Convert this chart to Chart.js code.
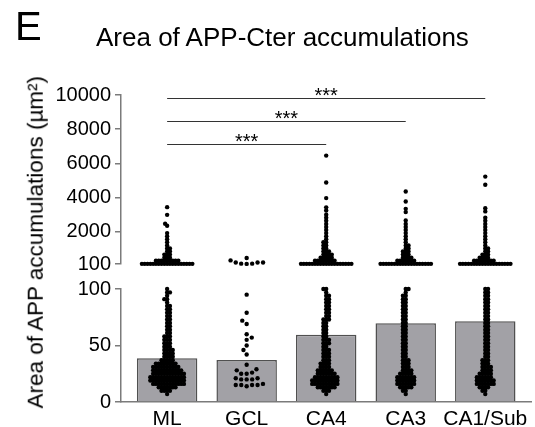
<!DOCTYPE html>
<html>
<head>
<meta charset="utf-8">
<title>Area of APP-Cter accumulations</title>
<script src="https://cdn.jsdelivr.net/npm/chart.js@4.4.1/dist/chart.umd.min.js"></script>
<style>
  body { margin: 0; background: #fff; }
  #figure { position: relative; width: 535px; height: 427px; font-family: "Liberation Sans", Arial, sans-serif; color: #000; }
  #figure canvas { position: absolute; left: 0; top: 0; }
  .panelLetter { position: absolute; left: 15px; top: 6px; font-size: 40px; line-height: 1; }
  .mainTitle { position: absolute; left: 96px; top: 24px; font-size: 26px; line-height: 1; white-space: nowrap; }
  .yTitle { position: absolute; left: -144px; top: 231px; width: 360px; text-align: center; font-size: 22.5px; line-height: 1; transform: rotate(-90deg); white-space: nowrap; }
</style>
</head>
<body>
<div id="figure">
  <canvas id="swarmChart" width="535" height="427"></canvas>
  <div class="panelLetter">E</div>
  <div class="mainTitle">Area of APP-Cter accumulations</div>
  <div class="yTitle">Area of APP accumulations (µm²)</div>
</div>
<script>
// categories and bar heights (µm²)
const categories = ["ML", "GCL", "CA4", "CA3", "CA1/Sub"];
const barMeans = [38.7, 37.2, 59.5, 69.6, 71.4];

// tick labels of the two halves of the broken y axis
const upperTicks = [100, 2000, 4000, 6000, 8000, 10000];
const lowerTicks = [0, 50, 100];

// lower half (0-100 µm²): dot levels and how many dots sit on each level
const lowLevels = [7, 10, 13, 16, 19, 22, 25, 28, 31, 34, 37, 40, 43, 46, 49, 52,
                   55, 58, 61, 64, 67, 70, 73, 76, 79, 82, 85, 88, 91, 94, 97, 100];
const mlLowCounts  = [1, 4, 7, 12, 13, 13, 12, 11, 10, 8, 5, 4, 4, 4, 3, 3, 3, 3, 2, 2, 2, 2, 2, 2, 2, 2, 2, 1, 2, 1, 2, 1];
const ca4LowCounts = [1, 3, 7, 10, 10, 9, 7, 6, 4, 4, 3, 3, 3, 3, 2, 3, 3, 2, 2, 2, 2, 2, 3, 2, 2, 2, 2, 2, 2, 2, 1, 2];
const ca3LowCounts = [1, 2, 5, 7, 7, 7, 5, 4, 3, 3, 3, 2, 2, 2, 2, 2, 2, 2, 2, 2, 2, 2, 2, 2, 2, 2, 2, 2, 2, 2, 1, 2];
const ca1LowCounts = [1, 2, 4, 7, 7, 6, 5, 4, 4, 3, 3, 2, 2, 2, 2, 2, 2, 2, 2, 2, 2, 2, 2, 2, 2, 2, 2, 2, 2, 2, 2, 2];
// GCL has only a few dots, listed one by one
const gclLow = [95, 79, 72, 69, 60, 57, 55, 50, 46, 42, 33, 29, 28, 26, 25, 25,
                21, 21, 20, 20, 20, 16, 15, 15, 15, 15, 14];

// upper half (>100 µm²): [value, number of dots]
const mlHigh = [[110, 19], [290, 9], [470, 3], [650, 3], [830, 2], [1010, 2], [1190, 1], [1370, 1],
                [1550, 1], [1730, 1], [1910, 1], [2340, 1], [2460, 1], [2980, 1], [3430, 1]];
const gclHigh = [[105, 1], [120, 2], [190, 3], [310, 1], [450, 1]];
const ca4High = [[110, 19], [290, 8], [470, 5], [650, 4], [830, 3], [1010, 2], [1190, 2], [1370, 2],
                 [1550, 1], [1730, 1], [1910, 1], [2090, 1], [2270, 1], [2450, 1], [2630, 1], [2810, 1],
                 [2990, 1], [3230, 1], [3420, 1], [3960, 1], [4870, 1], [6450, 1]];
const ca3High = [[110, 19], [290, 7], [470, 4], [650, 3], [830, 3], [1010, 2], [1190, 2], [1370, 1],
                 [1550, 1], [1730, 1], [1910, 1], [2090, 1], [2270, 1], [2450, 1], [2650, 1],
                 [3140, 1], [3330, 1], [3760, 1], [4350, 1]];
const ca1High = [[110, 19], [290, 8], [470, 4], [650, 3], [830, 2], [1010, 2], [1190, 1], [1370, 1],
                 [1550, 1], [1730, 1], [1910, 1], [2090, 1], [2270, 1], [2450, 1], [2630, 1], [2810, 1],
                 [3180, 1], [3370, 1], [4740, 1], [5220, 1]];

// significance brackets: [from category, to category, height in µm²]
const brackets = [[0, 4, 9800], [0, 3, 8450], [0, 2, 7150]];
const starText = "***";

/*********************************************/
/*                helpers                    */
/*********************************************/

function fromLevels(levels, counts) {
  const out = [];
  levels.forEach((v, i) => { for (let k = 0; k < counts[i]; k++) out.push(v); });
  return out;
}

function fromPairs(pairs) {
  const out = [];
  pairs.forEach(([v, n]) => { for (let k = 0; k < n; k++) out.push(v); });
  return out;
}

const lowGroups = [fromLevels(lowLevels, mlLowCounts), gclLow, fromLevels(lowLevels, ca4LowCounts),
                   fromLevels(lowLevels, ca3LowCounts), fromLevels(lowLevels, ca1LowCounts)];
const highGroups = [mlHigh, gclHigh, ca4High, ca3High, ca1High].map(fromPairs);
const dotGap = [2.8, 5.5, 2.8, 2.8, 2.8]; // min distance between dot centres, px

// beeswarm: push each dot sideways until it clears the ones already placed
function swarm(values, yScale, unitPx, gap, cat) {
  const placed = [];
  return values.slice().sort((a, b) => a - b).map((v, n) => {
    const py = yScale.getPixelForValue(v);
    const near = placed.filter(p => Math.abs(p.y - py) < gap);
    let dx = 0;
    for (let k = 0; k < 400; k++) {
      const step = 0.1 * k;
      const tries = k === 0 ? [0] : (n % 2 ? [step, -step] : [-step, step]);
      const ok = tries.find(t => near.every(p => Math.hypot(p.x - t, p.y - py) >= gap - 1e-6));
      if (ok !== undefined) { dx = ok; break; }
    }
    placed.push({ x: dx, y: py });
    return { x: cat + dx / unitPx, y: v };
  });
}

/*********************************************/
/*                 chart                     */
/*********************************************/

const axisGrey = "#7b7b7b";
const fontFamily = "'Liberation Sans', Arial, sans-serif";
Chart.defaults.font.family = fontFamily;
Chart.defaults.color = "#000";

// draws the *** comparison lines on the upper half
const sigBrackets = {
  id: "sigBrackets",
  afterDatasetsDraw(chart) {
    const { ctx } = chart;
    const x = chart.scales.x, yTop = chart.scales.yTop;
    ctx.save();
    ctx.strokeStyle = "#333";
    ctx.lineWidth = 1.2;
    ctx.fillStyle = "#000";
    ctx.font = "20px " + fontFamily;
    ctx.textAlign = "center";
    ctx.textBaseline = "alphabetic";
    brackets.forEach(([a, b, v]) => {
      const y = Math.round(yTop.getPixelForValue(v)) + 0.5;
      const x1 = x.getPixelForValue(a), x2 = x.getPixelForValue(b);
      ctx.beginPath();
      ctx.moveTo(x1, y);
      ctx.lineTo(x2, y);
      ctx.stroke();
      ctx.fillText(starText, (x1 + x2) / 2, y + 3);
    });
    ctx.restore();
  }
};

const yAxisBase = {
  type: "linear",
  position: "left",
  stack: "broken",
  grid: { drawOnChartArea: false, tickLength: 6, color: axisGrey, lineWidth: 1.5 },
  border: { color: axisGrey, width: 1.5 },
  ticks: { font: { size: 20 }, padding: 4, autoSkip: false, callback: v => String(v) },
  afterFit: s => { s.width = 121; }
};

const config = {
  type: "bar",
  data: {
    datasets: [
      {
        type: "bar",
        data: barMeans.map((v, i) => ({ x: i, y: v })),
        yAxisID: "yBot",
        backgroundColor: "#a2a1a6",
        borderColor: "#505050",
        borderWidth: 1.5,
        barPercentage: 0.76,
        categoryPercentage: 1,
        order: 3
      },
      {
        type: "scatter",
        data: lowGroups.flatMap((vals, i) => vals.map(v => ({ x: i, y: v }))),
        yAxisID: "yBot",
        pointRadius: 2.2,
        pointBackgroundColor: "#000",
        pointBorderWidth: 0,
        clip: false,
        order: 1
      },
      {
        type: "scatter",
        data: highGroups.flatMap((vals, i) => vals.map(v => ({ x: i, y: v }))),
        yAxisID: "yTop",
        pointRadius: 2.2,
        pointBackgroundColor: "#000",
        pointBorderWidth: 0,
        clip: false,
        order: 2
      }
    ]
  },
  options: {
    responsive: false,
    animation: false,
    devicePixelRatio: 1,
    layout: { padding: { top: 95, right: 2, left: 0, bottom: 0 } },
    plugins: { legend: { display: false }, tooltip: { enabled: false } },
    scales: {
      x: {
        type: "linear",
        offset: false,
        min: -0.58,
        max: 4.575,
        grid: { display: false, drawTicks: false },
        border: { color: axisGrey, width: 1.5 },
        afterBuildTicks: s => { s.ticks = categories.map((c, i) => ({ value: i })); },
        ticks: { font: { size: 21 }, padding: 5, maxRotation: 0, autoSkip: false, callback: v => categories[v] },
        afterFit: s => { s.height = 25; }
      },
      yTop: Object.assign({}, yAxisBase, {
        weight: 3, stackWeight: 169, min: 100, max: 10000,
        afterBuildTicks: s => { s.ticks = upperTicks.map(v => ({ value: v })); }
      }),
      yGap: {
        type: "linear", position: "left", stack: "broken", weight: 2, stackWeight: 25,
        min: 0, max: 1,
        grid: { display: false }, border: { display: false }, ticks: { display: false },
        afterFit: s => { s.width = 121; }
      },
      yBot: Object.assign({}, yAxisBase, {
        weight: 1, stackWeight: 113, min: 0, max: 100,
        afterBuildTicks: s => { s.ticks = lowerTicks.map(v => ({ value: v })); }
      })
    }
  },
  plugins: [sigBrackets]
};

const swarmChart = new Chart(document.getElementById("swarmChart"), config);

// second pass: now that the scales exist, spread the dots into swarms
const xScale = swarmChart.scales.x;
const unitPx = xScale.getPixelForValue(1) - xScale.getPixelForValue(0);
swarmChart.data.datasets[1].data = lowGroups.flatMap((vals, i) => swarm(vals, swarmChart.scales.yBot, unitPx, dotGap[i], i));
swarmChart.data.datasets[2].data = highGroups.flatMap((vals, i) => swarm(vals, swarmChart.scales.yTop, unitPx, dotGap[i], i));
swarmChart.update("none");
</script>
</body>
</html>
